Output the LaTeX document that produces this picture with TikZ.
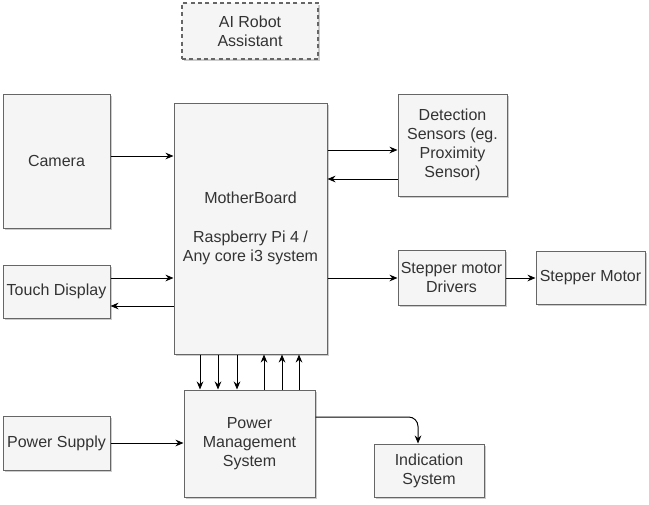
\documentclass[tikz,border=0pt]{standalone}
\usepackage{fontspec}
\setmainfont{Liberation Sans}
\usetikzlibrary{arrows.meta,shadows}
\definecolor{boxfill}{RGB}{245,245,245}
\definecolor{boxline}{RGB}{102,102,102}
\definecolor{boxtext}{RGB}{51,51,51}
\tikzset{every picture/.style={line width=0.75pt}}
\tikzset{
  box/.style={draw=boxline, fill=boxfill, text=boxtext, align=center, inner sep=0.75pt,
    font=\fontsize{12}{14.4}\selectfont,
    drop shadow={shadow xshift=1.5pt, shadow yshift=-1.5pt, opacity=0.2, fill=black}},
  arr/.style={draw=black, -{Stealth[length=6pt,width=5pt]}}
}

\begin{document}
\begin{tikzpicture}[x=0.75pt,y=0.75pt,yscale=-1,xscale=1]
\useasboundingbox (0,0) rectangle (649,504);

%Shape: Rectangle [title]
\node [box, line width=1.1pt, dash pattern=on 3pt off 2.5pt, minimum width=102pt, minimum height=42pt] (title) at (250,31) {AI Robot\\Assistant};
%Shape: Rectangle [camera]
\node [box, minimum width=80.25pt, minimum height=100.5pt] (cam) at (56.5,161) {Camera};
%Shape: Rectangle [motherboard]
\node [box, minimum width=114.75pt, minimum height=188.25pt] (mb) at (250.5,228.5) {MotherBoard\\[14.4pt]Raspberry Pi 4 /\\Any core i3 system};
%Shape: Rectangle [sensors]
\node [box, minimum width=81.75pt, minimum height=76.5pt] (det) at (452.5,145) {Detection\\Sensors (eg.\\Proximity\\Sensor)};
%Shape: Rectangle [touch display]
\node [box, minimum width=80.25pt, minimum height=39.75pt] (touch) at (56.5,291.5) {Touch Display};
%Shape: Rectangle [drivers]
\node [box, minimum width=80.25pt, minimum height=41.25pt] (drv) at (451.5,277.5) {Stepper motor\\Drivers};
%Shape: Rectangle [motor]
\node [box, minimum width=81.75pt, minimum height=39.75pt] (motor) at (590.5,277.5) {Stepper Motor};
%Shape: Rectangle [power management]
\node [box, minimum width=98.25pt, minimum height=80.25pt] (pm) at (249.5,443.5) {Power\\Management\\System};
%Shape: Rectangle [power supply]
\node [box, minimum width=80.25pt, minimum height=40.5pt] (ps) at (56.5,443) {Power Supply};
%Shape: Rectangle [indication]
\node [box, minimum width=82.5pt, minimum height=39.75pt] (ind) at (429,470.5) {Indication\\System};

%Straight Lines
\draw [arr] (cam.east |- 0,156) -- (mb.west |- 0,156);
\draw [arr] (mb.east |- 0,150) -- (det.west |- 0,150);
\draw [arr] (det.west |- 0,179) -- (mb.east |- 0,179);
\draw [arr] (touch.east |- 0,278) -- (mb.west |- 0,278);
\draw [arr] (mb.west |- 0,306) -- (touch.east |- 0,306);
\draw [arr] (mb.east |- 0,278) -- (drv.west |- 0,278);
\draw [arr] (drv.east |- 0,278) -- (motor.west |- 0,278);
\draw [arr] (ps.east |- 0,443) -- (pm.west |- 0,443);
\foreach \x in {200,218,237} \draw [arr] (mb.south -| \x,0) -- (pm.north -| \x,0);
\foreach \x in {264,282,299} \draw [arr] (pm.north -| \x,0) -- (mb.south -| \x,0);
%Curve Lines
\draw [arr, rounded corners=7] (pm.east |- 0,417) -| ([xshift=-8.25pt]ind.north);

\end{tikzpicture}
\end{document}
